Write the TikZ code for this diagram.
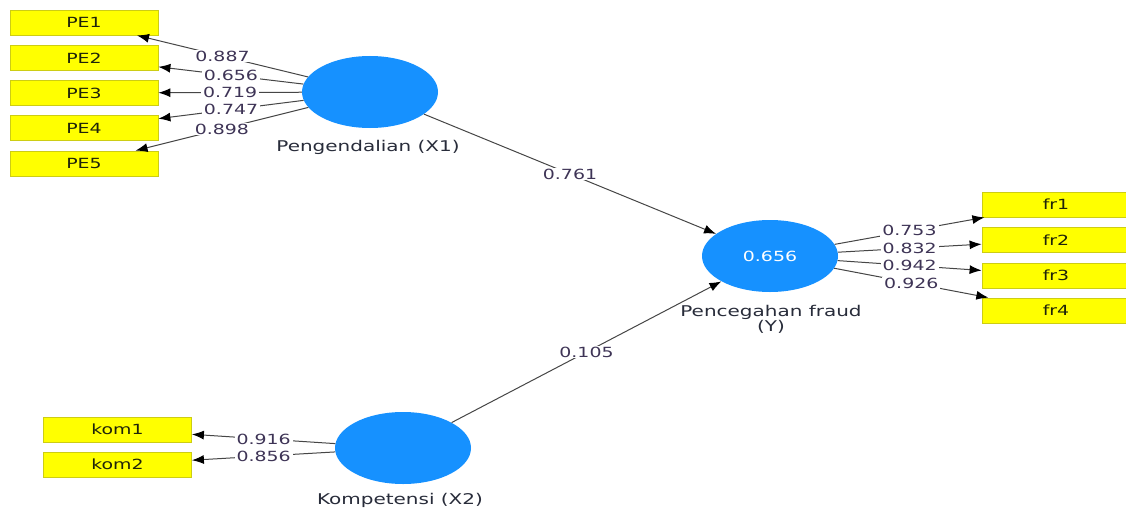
\documentclass[tikz,border=0pt]{standalone}
\usepackage{fontspec}
\setmainfont[FakeStretch=1.35]{DejaVu Sans}
\usetikzlibrary{shapes.geometric,arrows.meta}
\definecolor{lvblue}{RGB}{22,145,255}
\definecolor{ybord}{RGB}{205,205,20}
\definecolor{pyellow}{RGB}{255,255,0}
\definecolor{lgray}{RGB}{70,70,70}
\definecolor{wcol}{RGB}{62,52,86}
\definecolor{capcol}{RGB}{40,44,58}
\definecolor{boxtxt}{RGB}{30,35,10}
\begin{document}
\begin{tikzpicture}[x=1pt,y=-1pt,font=\fontsize{14}{16}\selectfont,
  lvar/.style={ellipse,fill=lvblue,minimum width=136pt,minimum height=72pt,inner sep=0pt},
  ind/.style={rectangle,fill=pyellow,draw=ybord,line width=0.8pt,minimum width=148pt,minimum height=25pt,inner sep=0pt,text=boxtxt},
  link/.style={draw=lgray,line width=1pt,-{Latex[length=12pt,width=9pt,color=black]}},
  wt/.style={fill=white,inner xsep=2pt,inner ysep=1pt,text=wcol},
  lvcap/.style={text=capcol,align=center,font=\fontsize{14.8}{15.5}\selectfont}]
\useasboundingbox[fill=white] (0,0) rectangle (1126,511);
% latent variables
\node[lvar] (X1) at (370,92) {};
\node[lvar] (Y) at (770,256) {\textcolor{white}{0.656}};
\node[lvar] (X2) at (403,448) {};
\node[lvcap] (cX1) at (368,147) {Pengendalian (X1)};
\node[lvcap] (cY) at (771,319.5) {Pencegahan fraud\\(Y)};
\node[lvcap] (cX2) at (400,500) {Kompetensi (X2)};
% indicators
\node[ind] (PE1) at (84,22.5) {PE1};
\node[ind] (PE2) at (84,58) {PE2};
\node[ind] (PE3) at (84,93) {PE3};
\node[ind] (PE4) at (84,128) {PE4};
\node[ind] (PE5) at (84,163.5) {PE5};
\node[ind] (fr1) at (1056,204.5) {fr1};
\node[ind] (fr2) at (1056,240) {fr2};
\node[ind] (fr3) at (1056,275.5) {fr3};
\node[ind] (fr4) at (1056,310.5) {fr4};
\node[ind] (kom1) at (117.5,429.5) {kom1};
\node[ind] (kom2) at (117.5,464.5) {kom2};
% outer loadings
\draw[link] (X1) -- node[wt,midway] (l1) {0.887} (PE1);
\draw[link] (X1) -- node[wt,midway] (l2) {0.656} (PE2);
\draw[link] (X1) -- node[wt,midway] (l3) {0.719} (PE3);
\draw[link] (X1) -- node[wt,midway] (l4) {0.747} (PE4);
\draw[link] (X1) -- node[wt,midway] (l5) {0.898} (PE5);
\draw[link] (Y) -- node[wt,midway] (l6) {0.753} (fr1);
\draw[link] (Y) -- node[wt,midway] (l7) {0.832} (fr2);
\draw[link] (Y) -- node[wt,midway] (l8) {0.942} (fr3);
\draw[link] (Y) -- node[wt,midway] (l9) {0.926} (fr4);
\draw[link] (X2) -- node[wt,midway] (l10) {0.916} (kom1);
\draw[link] (X2) -- node[wt,midway] (l11) {0.856} (kom2);
% path coefficients
\draw[link] (X1) -- node[wt,midway] (p1) {0.761} (Y);
\draw[link] (X2) -- node[wt,midway] (p2) {0.105} (Y);
\end{tikzpicture}
\end{document}
